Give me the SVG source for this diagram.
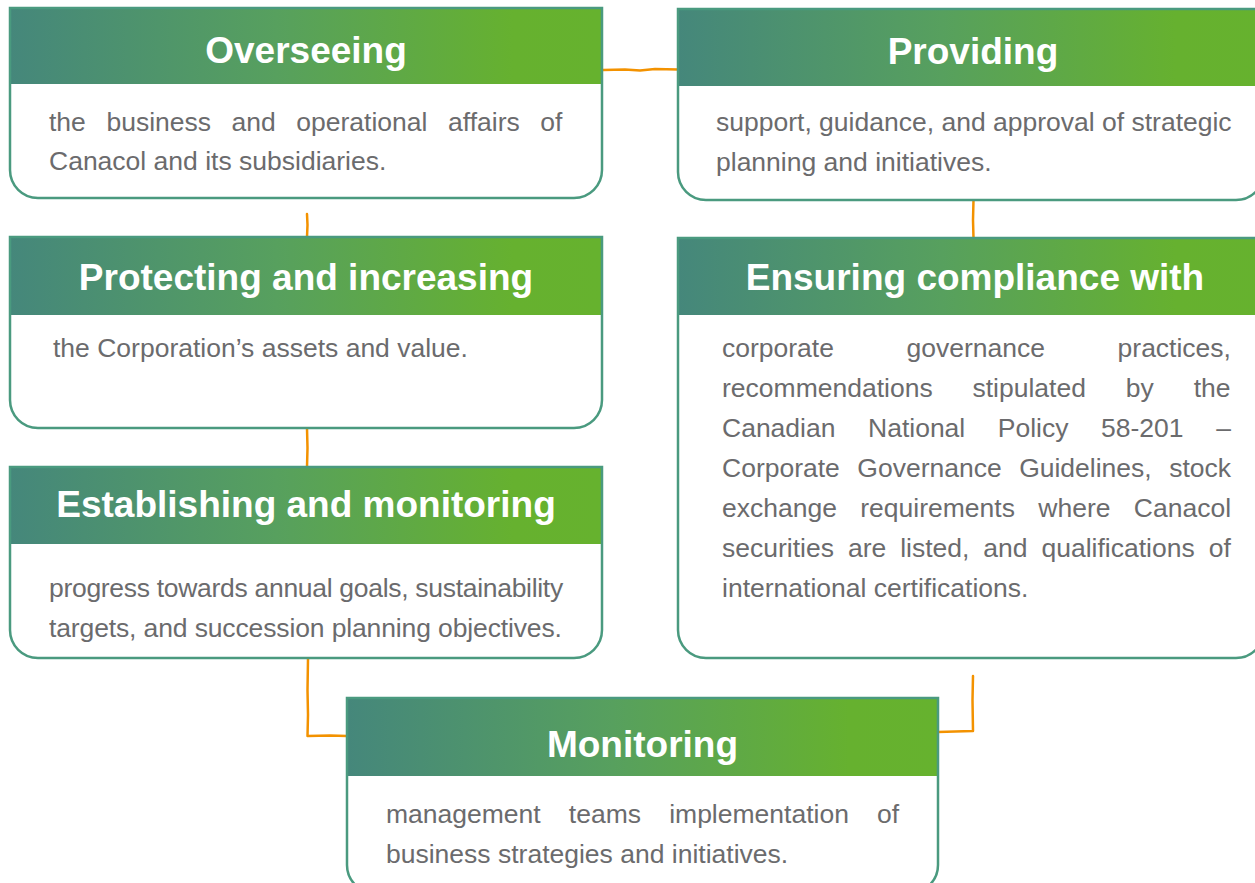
<svg xmlns="http://www.w3.org/2000/svg" width="1255" height="883" viewBox="0 0 1255 883">
<defs>
<linearGradient id="hg" x1="0" y1="0" x2="1" y2="0">
<stop offset="0" stop-color="#45877b"/>
<stop offset="0.45" stop-color="#57a05e"/>
<stop offset="0.85" stop-color="#66b12f"/>
<stop offset="1" stop-color="#66b22e"/>
</linearGradient>
<style>
.box{fill:#ffffff;stroke:none}
.outline{fill:none;stroke:#4a9a7f;stroke-width:2.5}
.head{fill:url(#hg)}
.title{font-family:"Liberation Sans",Arial,sans-serif;font-weight:bold;font-size:37px;fill:#ffffff;text-anchor:middle}
.body{font-family:"Liberation Sans",Arial,sans-serif;font-size:26.5px;fill:#6b6b6d}
.conn{fill:none;stroke:#f39200;stroke-width:2.5;stroke-linejoin:round;stroke-linecap:round}
</style>
</defs>
<rect width="1255" height="883" fill="#ffffff"/>

<g id="connectors">
<path class="conn" d="M603,70 L625,69.5 L640,70.5 L655,69 L678,69.5"/>
<path class="conn" d="M307,214 L307.5,225 L307,237"/>
<path class="conn" d="M307,428 L307.5,448 L307,467"/>
<path class="conn" d="M308,659 L307.5,690 L308,715 L307.5,736 L330,735.5 L347,736"/>
<path class="conn" d="M973.5,200 L973,220 L973.5,238"/>
<path class="conn" d="M973,676 L972.5,700 L973,731 L955,731.5 L938,732"/>
</g>

<g id="node-overseeing">
<path class="box" d="M10,8 H602 V170 A28,28 0 0 1 574,198 H38 A28,28 0 0 1 10,170 Z"/>
<rect class="head" x="10" y="8" width="592" height="76"/>
<path class="outline" d="M10,8 H602 V170 A28,28 0 0 1 574,198 H38 A28,28 0 0 1 10,170 Z"/>
<text class="title" x="306" y="63">Overseeing</text>
<text class="body" x="49" y="131" word-spacing="13.2">the business and operational affairs of</text>
<text class="body" x="49" y="170">Canacol and its subsidiaries.</text>
</g>

<g id="node-providing">
<path class="box" d="M678,9 H1264 V172 A28,28 0 0 1 1236,200 H706 A28,28 0 0 1 678,172 Z"/>
<rect class="head" x="678" y="9" width="586" height="77"/>
<path class="outline" d="M678,9 H1264 V172 A28,28 0 0 1 1236,200 H706 A28,28 0 0 1 678,172 Z"/>
<text class="title" x="973" y="64">Providing</text>
<text class="body" x="716" y="131">support, guidance, and approval of strategic</text>
<text class="body" x="716" y="171">planning and initiatives.</text>
</g>

<g id="node-protecting">
<path class="box" d="M10,237 H602 V400 A28,28 0 0 1 574,428 H38 A28,28 0 0 1 10,400 Z"/>
<rect class="head" x="10" y="237" width="592" height="78"/>
<path class="outline" d="M10,237 H602 V400 A28,28 0 0 1 574,428 H38 A28,28 0 0 1 10,400 Z"/>
<text class="title" x="306" y="290">Protecting and increasing</text>
<text class="body" x="53" y="357">the Corporation’s assets and value.</text>
</g>

<g id="node-ensuring">
<path class="box" d="M678,238 H1264 V630 A28,28 0 0 1 1236,658 H706 A28,28 0 0 1 678,630 Z"/>
<rect class="head" x="678" y="238" width="586" height="77"/>
<path class="outline" d="M678,238 H1264 V630 A28,28 0 0 1 1236,658 H706 A28,28 0 0 1 678,630 Z"/>
<text class="title" x="975" y="290">Ensuring compliance with</text>
<text class="body" x="722" y="357" word-spacing="65.2">corporate governance practices,</text>
<text class="body" x="722" y="397" word-spacing="32.5">recommendations stipulated by the</text>
<text class="body" x="722" y="437" word-spacing="25.2">Canadian National Policy 58-201 –</text>
<text class="body" x="722" y="477" word-spacing="10.1">Corporate Governance Guidelines, stock</text>
<text class="body" x="722" y="517" word-spacing="16">exchange requirements where Canacol</text>
<text class="body" x="722" y="557" word-spacing="6.6">securities are listed, and qualifications of</text>
<text class="body" x="722" y="597">international certifications.</text>
</g>

<g id="node-establishing">
<path class="box" d="M10,467 H602 V630 A28,28 0 0 1 574,658 H38 A28,28 0 0 1 10,630 Z"/>
<rect class="head" x="10" y="467" width="592" height="77"/>
<path class="outline" d="M10,467 H602 V630 A28,28 0 0 1 574,658 H38 A28,28 0 0 1 10,630 Z"/>
<text class="title" x="306" y="517">Establishing and monitoring</text>
<text class="body" x="49" y="597" letter-spacing="-0.3">progress towards annual goals, sustainability</text>
<text class="body" x="49" y="637" letter-spacing="-0.13">targets, and succession planning objectives.</text>
</g>

<g id="node-monitoring">
<path class="box" d="M347,698 H938 V865 A28,28 0 0 1 910,893 H375 A28,28 0 0 1 347,865 Z"/>
<rect class="head" x="347" y="698" width="591" height="78"/>
<path class="outline" d="M347,698 H938 V865 A28,28 0 0 1 910,893 H375 A28,28 0 0 1 347,865 Z"/>
<text class="title" x="642.5" y="757">Monitoring</text>
<text class="body" x="386" y="823" word-spacing="20.8">management teams implementation of</text>
<text class="body" x="386" y="863">business strategies and initiatives.</text>
</g>
</svg>
